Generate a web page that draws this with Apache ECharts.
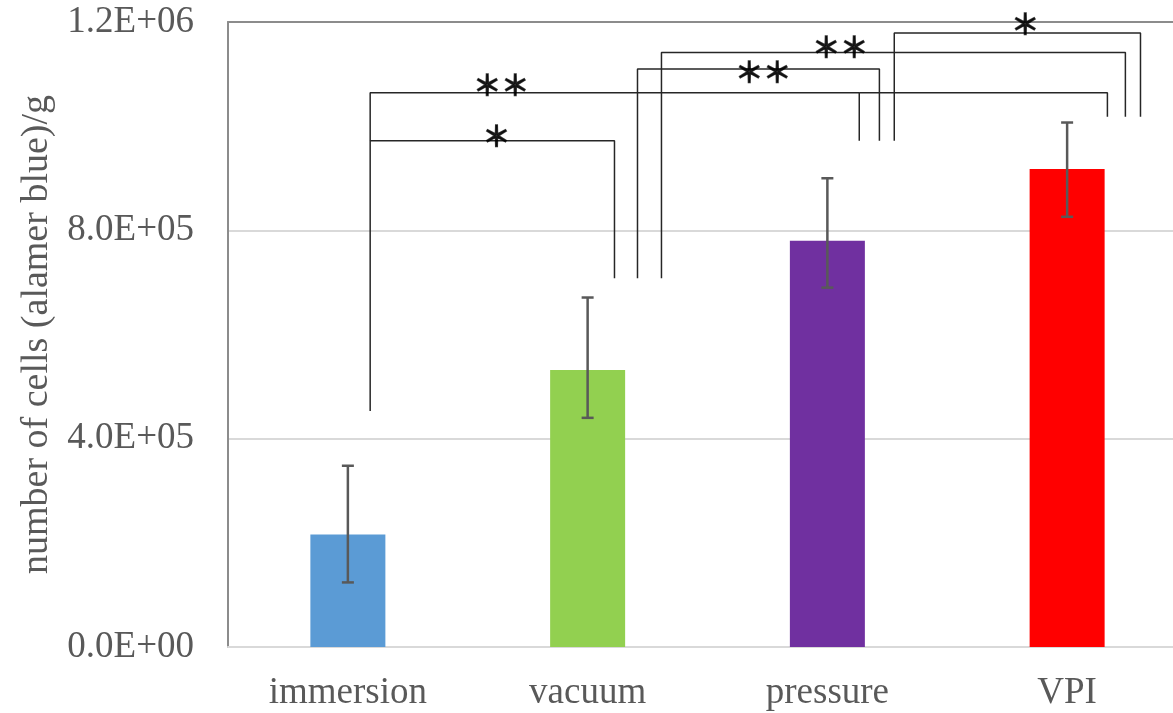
<!DOCTYPE html>
<html>
<head>
<meta charset="utf-8">
<script src="https://cdn.jsdelivr.net/npm/echarts@6/dist/echarts.min.js"></script>
<style>
  html, body { margin: 0; padding: 0; background: #fff; }
  #chart-container { width: 1173px; height: 713px; }
</style>
</head>
<body>
<div id="chart-container"></div>
<script>
var dom = document.getElementById("chart-container");
var myChart = echarts.init(dom, null, { renderer: "canvas" });

// categories and values
var categories = ["immersion", "vacuum", "pressure", "VPI"];
var barColors = ["#5B9BD5", "#92D050", "#7030A0", "#FF0000"];
var means = [2.16e5, 5.32e5, 7.8e5, 9.18e5];
var errHigh = [3.48e5, 6.71e5, 9.0e5, 1.007e6];
var errLow = [1.24e5, 4.40e5, 6.9e5, 8.26e5];
var yTicks = [0, 4e5, 8e5, 1.2e6];

// significance brackets, x in category units (0 = immersion ... 3 = VPI)
var bracketImmVac = [[0.093, 4.53e5], [0.093, 9.72e5], [1.112, 9.72e5], [1.112, 7.08e5]];
var bracketImmPre = [[0.093, 9.72e5], [0.093, 1.064e6], [2.133, 1.064e6], [2.133, 9.72e5]];
var bracketImmVpi = [[2.133, 1.064e6], [3.168, 1.064e6], [3.168, 1.018e6]];
var bracketVacPre = [[1.208, 7.08e5], [1.208, 1.11e6], [2.217, 1.11e6], [2.217, 9.72e5]];
var bracketVacVpi = [[1.308, 7.08e5], [1.308, 1.1414e6], [3.243, 1.1414e6], [3.243, 1.018e6]];
var bracketPreVpi = [[2.279, 9.72e5], [2.279, 1.1788e6], [3.306, 1.1788e6], [3.306, 1.018e6]];
var stars = [
  { value: [0.62, 9.80e5], mark: "＊" },
  { value: [0.64, 1.078e6], mark: "＊＊" },
  { value: [1.733, 1.104e6], mark: "＊＊" },
  { value: [2.054, 1.152e6], mark: "＊＊" },
  { value: [2.825, 1.196e6], mark: "＊" }
];

function sciFormat(v) {
  var parts = v.toExponential(1).split("e");
  var exp = parseInt(parts[1], 10);
  var sign = exp < 0 ? "-" : "+";
  var e = Math.abs(exp);
  return parts[0] + "E" + sign + (e < 10 ? "0" + e : "" + e);
}

var serif = "'Liberation Serif', 'Times New Roman', serif";

function bracketSeries(data) {
  return {
    type: "line",
    xAxisIndex: 1,
    yAxisIndex: 0,
    data: data,
    symbol: "none",
    silent: true,
    lineStyle: { color: "#262626", width: 1.5 },
    z: 5
  };
}

var option = {
  animation: false,
  grid: { left: 228, top: 22, width: 959, bottom: 66, outerBoundsMode: "none", containLabel: false },
  xAxis: [
    {
      type: "category",
      data: categories,
      axisLine: { lineStyle: { color: "#d9d9d9", width: 2 } },
      axisTick: { show: false },
      axisLabel: { color: "#595959", fontFamily: serif, fontSize: 37, margin: 28 }
    },
    {
      type: "value",
      min: -0.5,
      max: 3.5,
      position: "top",
      axisLine: { show: true, onZero: false, lineStyle: { color: "#8c8c8c", width: 2 } },
      axisTick: { show: false },
      axisLabel: { show: false },
      splitLine: { show: false }
    }
  ],
  yAxis: {
    type: "value",
    min: yTicks[0],
    max: yTicks[yTicks.length - 1],
    interval: yTicks[1] - yTicks[0],
    name: "number of cells (alamer blue)/g",
    nameLocation: "middle",
    nameRotate: 90,
    nameGap: 170,
    nameTextStyle: { color: "#595959", fontFamily: serif, fontSize: 38 },
    axisLine: { show: true, onZero: false, lineStyle: { color: "#8c8c8c", width: 2 } },
    axisTick: { show: false },
    axisLabel: {
      color: "#595959",
      fontFamily: serif,
      fontSize: 37,
      margin: 34,
      formatter: sciFormat
    },
    splitLine: { lineStyle: { color: "#d9d9d9", width: 2 } }
  },
  series: [
    {
      type: "bar",
      barWidth: 75,
      data: means.map(function (v, i) {
        return { value: v, itemStyle: { color: barColors[i] } };
      }),
      z: 2
    },
    {
      type: "custom",
      data: categories.map(function (c, i) { return [i, errLow[i], errHigh[i]]; }),
      renderItem: function (params, api) {
        var lo = api.coord([api.value(0), api.value(1)]);
        var hi = api.coord([api.value(0), api.value(2)]);
        var w = 6;
        var style = { stroke: "#595959", lineWidth: 2.5 };
        return {
          type: "group",
          children: [
            { type: "line", shape: { x1: hi[0], y1: hi[1], x2: lo[0], y2: lo[1] }, style: style },
            { type: "line", shape: { x1: hi[0] - w, y1: hi[1], x2: hi[0] + w, y2: hi[1] }, style: style },
            { type: "line", shape: { x1: lo[0] - w, y1: lo[1], x2: lo[0] + w, y2: lo[1] }, style: style }
          ]
        };
      },
      z: 4
    },
    bracketSeries(bracketImmVac),
    bracketSeries(bracketImmPre),
    bracketSeries(bracketImmVpi),
    bracketSeries(bracketVacPre),
    bracketSeries(bracketVacVpi),
    bracketSeries(bracketPreVpi),
    {
      type: "scatter",
      xAxisIndex: 1,
      yAxisIndex: 0,
      symbolSize: 1,
      itemStyle: { color: "rgba(0,0,0,0)" },
      silent: true,
      data: stars.map(function (s) { return { value: s.value }; }),
      label: {
        show: true,
        position: "inside",
        formatter: function (p) { return stars[p.dataIndex].mark; },
        fontFamily: "'Noto Sans CJK JP', sans-serif",
        fontSize: 28,
        color: "#000",
        textBorderColor: "#000",
        textBorderWidth: 1.6
      },
      z: 6
    }
  ]
};

myChart.setOption(option);
window.addEventListener("resize", myChart.resize);
</script>
</body>
</html>
